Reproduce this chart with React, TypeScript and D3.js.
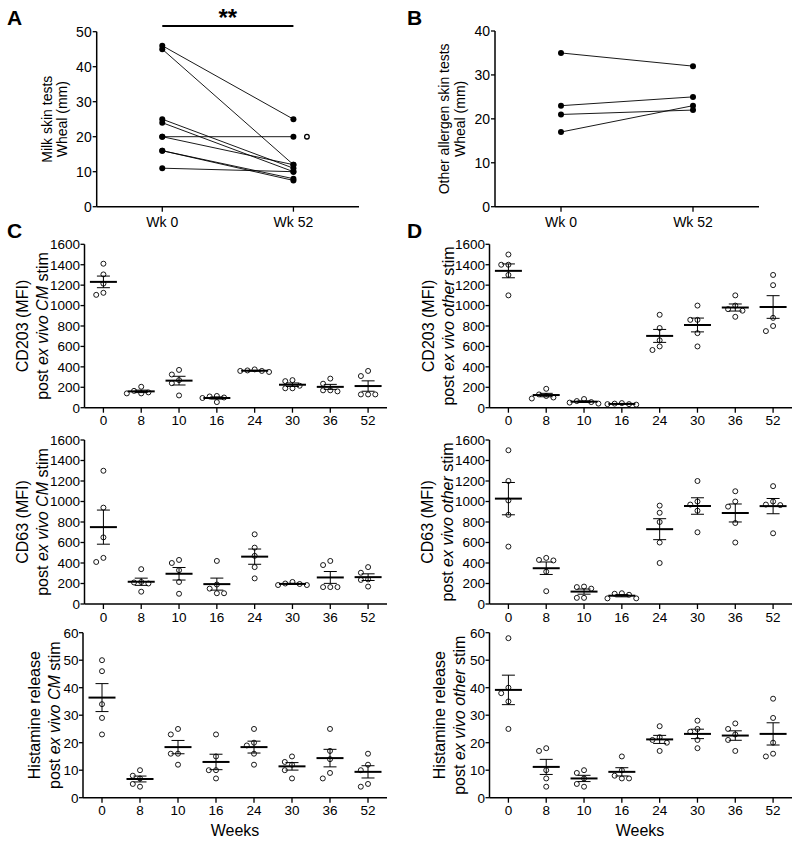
import React from 'react';
import * as d3 from 'd3';

const FONT = "'Liberation Sans', Arial, Helvetica, sans-serif";

// ---------- Panel A / B data ----------
const skinVisits = ['Wk 0', 'Wk 52'];
const milkWk0 = [46, 45, 25, 24, 20, 20, 16, 16, 11];
const milkWk52 = [25, 12, 11, 10, 20, 12, 8, 7.5, 10];
const milkOpenWk52 = [20];
const milkTicks = [0, 10, 20, 30, 40, 50];
const otherWk0 = [35, 23, 21, 17];
const otherWk52 = [32, 25, 22, 23];
const otherTicks = [0, 10, 20, 30, 40];

// ---------- Panels C / D data ----------
const weeks = ['0', '8', '10', '16', '24', '30', '36', '52'];
const mfiTicks = [0, 200, 400, 600, 800, 1000, 1200, 1400, 1600];
const histTicks = [0, 10, 20, 30, 40, 50, 60];

const cd203CM = [
  [1410, 1305, 1215, 1105, 1125],
  [205, 165, 150, 140, 140],
  [370, 325, 270, 240, 120],
  [115, 110, 100, 95, 55],
  [375, 365, 360, 360, 350],
  [270, 260, 215, 190, 190],
  [285, 235, 170, 160, 170],
  [360, 310, 130, 130, 130],
];
const cd63CM = [
  [1300, 940, 650, 410, 450],
  [340, 215, 210, 200, 120],
  [430, 400, 330, 215, 100],
  [420, 190, 150, 105, 105],
  [680, 550, 470, 360, 250],
  [215, 200, 195, 185, 185],
  [420, 380, 165, 165, 165],
  [360, 305, 240, 235, 170],
];
const histCM = [
  [50, 46, 34, 29, 23],
  [10, 8, 7, 4, 5],
  [25, 23, 16, 16, 12],
  [23, 15, 10, 10, 7],
  [25, 20, 19, 16, 12],
  [15, 13, 12, 10, 7],
  [25, 17, 14, 9, 7],
  [16, 12, 10, 5, 4],
];
const cd203Other = [
  [1500, 1400, 1400, 1300, 1100],
  [185, 130, 115, 100, 90],
  [85, 65, 55, 50, 40],
  [45, 40, 35, 35, 30],
  [910, 780, 660, 565, 600],
  [1000, 860, 860, 730, 600],
  [1100, 1000, 965, 950, 890],
  [1300, 1200, 880, 750, 800],
];
const cd63Other = [
  [1500, 1200, 1010, 870, 560],
  [450, 425, 430, 315, 125],
  [170, 150, 165, 60, 60],
  [105, 100, 90, 55, 55],
  [960, 890, 800, 600, 400],
  [1200, 970, 1000, 910, 700],
  [1100, 1000, 950, 790, 600],
  [1150, 970, 965, 1000, 690],
];
const histOther = [
  [58, 40, 38, 35, 25],
  [18, 17, 10, 7, 4],
  [9, 10, 7, 5, 4],
  [15, 10, 8, 7, 7],
  [26, 21, 22, 20, 17],
  [28, 25, 24, 21, 18],
  [27, 25, 23, 21, 17],
  [36, 29, 20, 15, 16],
];

type Part = [string, boolean];
const titleCD203 = 'CD203 (MFI)';
const titleCD63 = 'CD63 (MFI)';
const titleHist = 'Histamine release';
const subCM: Part[] = [['post ', false], ['ex vivo', true], [' ', false], ['CM', true], [' stim', false]];
const subOther: Part[] = [['post ', false], ['ex vivo other', true], [' stim', false]];

const R = 2.5;
const D = 7.2;

function swarm(vals: number[], y: (v: number) => number) {
  const order = vals.map((v, i) => i).sort((a, b) => vals[b] - vals[a]);
  const placed: { off: number; py: number }[] = [];
  const out: { off: number; py: number }[] = new Array(vals.length);
  const cands = [0, -1, 1, -2, 2, -3, 3];
  for (const i of order) {
    const py = y(vals[i]);
    for (const c of cands) {
      const off = c * D;
      const hit = placed.some((p) => Math.abs(p.off - off) < D * 0.5 && Math.abs(p.py - py) < 2 * R + 1);
      if (!hit) {
        placed.push({ off, py });
        out[i] = { off, py };
        break;
      }
    }
  }
  return out;
}

type DotProps = {
  x0: number; x1: number; top: number; bottom: number; max: number; ticks: number[];
  groups: number[][]; title: string; sub: Part[]; tx1: number; tx2: number;
};

function DotPanel(p: DotProps) {
  const x = d3.scaleBand<string>().domain(weeks).range([p.x0, p.x1]);
  const y = d3.scaleLinear().domain([0, p.max]).range([p.bottom, p.top]);
  const cx = (w: string) => (x(w) ?? 0) + x.bandwidth() / 2;
  const midY = (p.top + p.bottom) / 2;
  return (
    <g>
      <line x1={p.x0} x2={p.x0} y1={p.top} y2={p.bottom} stroke="#000" strokeWidth={1.5} />
      <line x1={p.x0} x2={p.x1} y1={p.bottom} y2={p.bottom} stroke="#000" strokeWidth={1.5} />
      {p.ticks.map((t) => (
        <g key={t}>
          <line x1={p.x0 - 4} x2={p.x0} y1={y(t)} y2={y(t)} stroke="#000" strokeWidth={1.3} />
          <text x={p.x0 - 4.5} y={y(t) + 4.8} textAnchor="end" fontSize={13.5}>{t}</text>
        </g>
      ))}
      {weeks.map((w) => (
        <g key={w}>
          <line x1={cx(w)} x2={cx(w)} y1={p.bottom} y2={p.bottom + 5} stroke="#000" strokeWidth={1.3} />
          <text x={cx(w)} y={p.bottom + 17.5} textAnchor="middle" fontSize={13.5}>{w}</text>
        </g>
      ))}
      {p.groups.map((vals, gi) => {
        const c = cx(weeks[gi]);
        const m = d3.mean(vals) ?? 0;
        const sem = (d3.deviation(vals) ?? 0) / Math.sqrt(vals.length);
        const pts = swarm(vals, y);
        return (
          <g key={gi}>
            {pts.map((pt, i) => (
              <circle key={i} cx={c + pt.off} cy={pt.py} r={R} fill="none" stroke="#000" strokeWidth={0.9} />
            ))}
            <line x1={c} x2={c} y1={y(m + sem)} y2={y(m - sem)} stroke="#000" strokeWidth={1} />
            <line x1={c - 6.5} x2={c + 6.5} y1={y(m + sem)} y2={y(m + sem)} stroke="#000" strokeWidth={1} />
            <line x1={c - 6.5} x2={c + 6.5} y1={y(m - sem)} y2={y(m - sem)} stroke="#000" strokeWidth={1} />
            <line x1={c - 13.5} x2={c + 13.5} y1={y(m)} y2={y(m)} stroke="#000" strokeWidth={2} />
          </g>
        );
      })}
      <text transform={`translate(${p.tx1},${midY}) rotate(-90)`} textAnchor="middle" dominantBaseline="central" fontSize={16}>{p.title}</text>
      <text transform={`translate(${p.tx2},${midY}) rotate(-90)`} textAnchor="middle" dominantBaseline="central" fontSize={16}>
        {p.sub.map((s, i) => (
          <tspan key={i} fontStyle={s[1] ? 'italic' : 'normal'}>{s[0]}</tspan>
        ))}
      </text>
    </g>
  );
}

type PairProps = {
  x0: number; x1: number; top: number; bottom: number; max: number; ticks: number[];
  before: number[]; after: number[]; open?: number[]; t1: string; t2: string; tx1: number; tx2: number; sig?: string;
};

function PairPanel(p: PairProps) {
  const x = d3.scalePoint<string>().domain(skinVisits).range([p.x0, p.x1]).padding(0.5);
  const y = d3.scaleLinear().domain([0, p.max]).range([p.bottom, p.top]);
  const xa = x(skinVisits[0]) ?? 0;
  const xb = x(skinVisits[1]) ?? 0;
  const midY = (p.top + p.bottom) / 2;
  return (
    <g>
      <line x1={p.x0} x2={p.x0} y1={p.top} y2={p.bottom} stroke="#000" strokeWidth={1.5} />
      <line x1={p.x0} x2={p.x1} y1={p.bottom} y2={p.bottom} stroke="#000" strokeWidth={1.5} />
      {p.ticks.map((t) => (
        <g key={t}>
          <line x1={p.x0 - 4} x2={p.x0} y1={y(t)} y2={y(t)} stroke="#000" strokeWidth={1.3} />
          <text x={p.x0 - 5} y={y(t) + 5} textAnchor="end" fontSize={14}>{t}</text>
        </g>
      ))}
      {skinVisits.map((v) => (
        <g key={v}>
          <line x1={x(v)} x2={x(v)} y1={p.bottom} y2={p.bottom + 5} stroke="#000" strokeWidth={1.3} />
          <text x={x(v)} y={p.bottom + 20.5} textAnchor="middle" fontSize={14}>{v}</text>
        </g>
      ))}
      {p.before.map((b, i) => (
        <line key={'l' + i} x1={xa} x2={xb} y1={y(b)} y2={y(p.after[i])} stroke="#000" strokeWidth={0.9} />
      ))}
      {p.before.map((b, i) => (
        <g key={'d' + i}>
          <circle cx={xa} cy={y(b)} r={3} fill="#000" />
          <circle cx={xb} cy={y(p.after[i])} r={3} fill="#000" />
        </g>
      ))}
      {(p.open ?? []).map((v, i) => (
        <circle key={'o' + i} cx={xb + 13.5} cy={y(v)} r={2.3} fill="none" stroke="#000" strokeWidth={1.3} />
      ))}
      {p.sig && (
        <g>
          <line x1={xa} x2={xb} y1={26} y2={26} stroke="#000" strokeWidth={2} />
          <text x={(xa + xb) / 2} y={25.5} textAnchor="middle" fontSize={24} fontWeight="bold">{p.sig}</text>
        </g>
      )}
      <text transform={`translate(${p.tx1},${midY}) rotate(-90)`} textAnchor="middle" dominantBaseline="central" fontSize={14}>{p.t1}</text>
      <text transform={`translate(${p.tx2},${midY}) rotate(-90)`} textAnchor="middle" dominantBaseline="central" fontSize={14}>{p.t2}</text>
    </g>
  );
}

export default function App() {
  const cx0 = 84.5, cx1 = 387;
  const dx0 = 489.5, dx1 = 792;
  const rows = [
    [244.3, 407.7],
    [440, 604],
    [632.7, 797.7],
  ];
  return (
    <svg width={800} height={843} style={{ position: 'absolute', left: 0, top: 0, background: '#fff' }} fontFamily={FONT}>
      <rect x={0} y={0} width={800} height={843} fill="#fff" />
      <PairPanel x0={96.7} x1={359} top={31.7} bottom={206.7} max={50} ticks={milkTicks}
        before={milkWk0} after={milkWk52} open={milkOpenWk52}
        t1="Milk skin tests" t2="Wheal (mm)" tx1={47} tx2={62} sig="**" />
      <PairPanel x0={495} x1={759} top={31} bottom={206.7} max={40} ticks={otherTicks}
        before={otherWk0} after={otherWk52}
        t1="Other allergen skin tests" t2="Wheal (mm)" tx1={444} tx2={459.5} />

      <DotPanel x0={cx0} x1={cx1} top={rows[0][0]} bottom={rows[0][1]} max={1600} ticks={mfiTicks}
        groups={cd203CM} title={titleCD203} sub={subCM} tx1={22} tx2={41.5} />
      <DotPanel x0={cx0} x1={cx1} top={rows[1][0]} bottom={rows[1][1]} max={1600} ticks={mfiTicks}
        groups={cd63CM} title={titleCD63} sub={subCM} tx1={22} tx2={41.5} />
      <DotPanel x0={cx0 - 1.5} x1={cx1} top={rows[2][0]} bottom={rows[2][1]} max={60} ticks={histTicks}
        groups={histCM} title={titleHist} sub={subCM} tx1={34} tx2={53.5} />

      <DotPanel x0={dx0} x1={dx1} top={rows[0][0]} bottom={rows[0][1]} max={1600} ticks={mfiTicks}
        groups={cd203Other} title={titleCD203} sub={subOther} tx1={428.5} tx2={447.5} />
      <DotPanel x0={dx0} x1={dx1} top={rows[1][0]} bottom={rows[1][1]} max={1600} ticks={mfiTicks}
        groups={cd63Other} title={titleCD63} sub={subOther} tx1={427} tx2={446.5} />
      <DotPanel x0={dx0} x1={dx1} top={rows[2][0]} bottom={rows[2][1]} max={60} ticks={histTicks}
        groups={histOther} title={titleHist} sub={subOther} tx1={439} tx2={458.5} />

      <text x={235} y={835.5} textAnchor="middle" fontSize={16}>Weeks</text>
      <text x={640} y={835.5} textAnchor="middle" fontSize={16}>Weeks</text>

      <text x={7} y={25} fontSize={21} fontWeight="bold">A</text>
      <text x={407} y={25} fontSize={21} fontWeight="bold">B</text>
      <text x={7} y={238} fontSize={21} fontWeight="bold">C</text>
      <text x={407} y={238} fontSize={21} fontWeight="bold">D</text>
    </svg>
  );
}
